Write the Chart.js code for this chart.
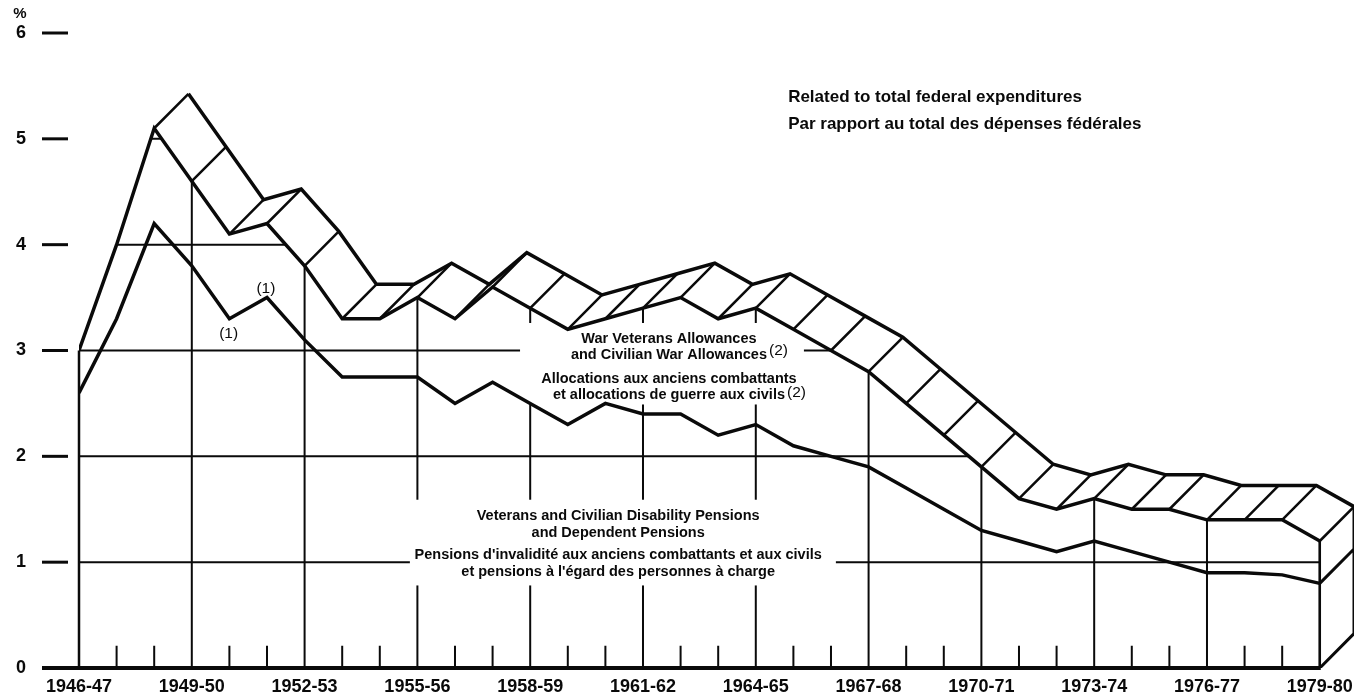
<!DOCTYPE html>
<html>
<head>
<meta charset="utf-8">
<title>Veterans allowances and pensions, % of federal expenditures</title>
<script src="https://cdn.jsdelivr.net/npm/chart.js@4.4.1/dist/chart.umd.min.js"></script>
<style>
  html, body { margin: 0; padding: 0; background: #fff; }
  canvas { display: block; }
</style>
</head>
<body>
<canvas id="chart" width="1368" height="698"></canvas>
<script>
const years = ['1946-47', '1947-48', '1948-49', '1949-50', '1950-51', '1951-52', '1952-53', '1953-54',
  '1954-55', '1955-56', '1956-57', '1957-58', '1958-59', '1959-60', '1960-61', '1961-62', '1962-63',
  '1963-64', '1964-65', '1965-66', '1966-67', '1967-68', '1968-69', '1969-70', '1970-71', '1971-72',
  '1972-73', '1973-74', '1974-75', '1975-76', '1976-77', '1977-78', '1978-79', '1979-80'];

// pensions + allowances (top of the wall)
const totalPct = [3.0, 4.0, 5.1, 4.6, 4.1, 4.2, 3.8, 3.3, 3.3, 3.5, 3.3, 3.6, 3.4, 3.2, 3.3, 3.4, 3.5,
  3.3, 3.4, 3.2, 3.0, 2.8, 2.5, 2.2, 1.9, 1.6, 1.5, 1.6, 1.5, 1.5, 1.4, 1.4, 1.4, 1.2];

// disability and dependent pensions
const pensionsPct = [2.6, 3.3, 4.2, 3.8, 3.3, 3.5, 3.1, 2.75, 2.75, 2.75, 2.5, 2.7, 2.5, 2.3, 2.5, 2.4, 2.4,
  2.2, 2.3, 2.1, 2.0, 1.9, 1.7, 1.5, 1.3, 1.2, 1.1, 1.2, 1.1, 1.0, 0.9, 0.9, 0.88, 0.8];

const yTicks = [0, 1, 2, 3, 4, 5, 6];

const INK = '#0a0a0a';
const FONT = '"Liberation Sans", Arial, Helvetica, sans-serif';

// depth of the ribbon, in axis units
const DEPTH_X = 0.91;
const DEPTH_Y = 0.325;
const last = totalPct.length - 1;

// top face of segment i -> i+1 is seen only when it does not climb too steeply
function faceVisible(i) {
  if (i < 0 || i >= last) return false;
  return (totalPct[i + 1] - totalPct[i]) * DEPTH_X < DEPTH_Y;
}

const backEdge = [];
const depthLines = [];
totalPct.forEach((v, i) => {
  if (!faceVisible(i - 1) && !faceVisible(i)) return;
  if (!faceVisible(i - 1) && backEdge.length) backEdge.push({ x: i - 0.5 + DEPTH_X, y: null });
  backEdge.push({ x: i + DEPTH_X, y: v + DEPTH_Y });
  depthLines.push({ x: i, y: v }, { x: i + DEPTH_X, y: v + DEPTH_Y }, { x: i + DEPTH_X, y: null });
});

const endCap = [
  { x: last, y: 0 }, { x: last + DEPTH_X, y: DEPTH_Y }, { x: last + DEPTH_X, y: totalPct[last] + DEPTH_Y },
  { x: last + DEPTH_X, y: null },
  { x: last, y: pensionsPct[last] }, { x: last + DEPTH_X, y: pensionsPct[last] + DEPTH_Y }
];

// white boxes behind the inside labels, in axis units
const labelBoxes = [
  { x0: 11.73, x1: 19.28, y0: 3.26, y1: 2.49 },
  { x0: 8.80, x1: 20.13, y0: 1.59, y1: 0.78 }
];

function line(ctx, x0, y0, x1, y1) {
  ctx.beginPath();
  ctx.moveTo(x0, y0);
  ctx.lineTo(x1, y1);
  ctx.stroke();
}

function text(ctx, str, x, y, size, weight, align) {
  ctx.font = (weight || 'bold') + ' ' + size + 'px ' + FONT;
  ctx.textAlign = align || 'left';
  ctx.textBaseline = 'alphabetic';
  ctx.fillStyle = INK;
  ctx.fillText(str, x, y);
  return ctx.measureText(str).width;
}

// grid lines drawn on the front wall only
const wallGrid = {
  id: 'wallGrid',
  afterDatasetDraw(chart, args) {
    if (chart.data.datasets[args.index].label !== 'wall') return;
    const { ctx, scales: { x, y } } = chart;
    const base = y.getPixelForValue(0);
    ctx.save();
    ctx.beginPath();
    ctx.moveTo(x.getPixelForValue(0), base);
    totalPct.forEach((v, i) => ctx.lineTo(x.getPixelForValue(i), y.getPixelForValue(v)));
    ctx.lineTo(x.getPixelForValue(last), base);
    ctx.closePath();
    ctx.clip();

    ctx.strokeStyle = INK;
    ctx.lineWidth = 2;
    yTicks.slice(1).forEach(v => {
      const py = y.getPixelForValue(v);
      line(ctx, x.getPixelForValue(0), py, x.getPixelForValue(last), py);
    });
    totalPct.forEach((v, i) => {
      const px = x.getPixelForValue(i);
      const top = i % 3 === 0 ? y.getPixelForValue(v) : y.getPixelForValue(0.21);
      line(ctx, px, base, px, top);
    });

    ctx.fillStyle = '#fff';
    labelBoxes.forEach(b => {
      const x0 = x.getPixelForValue(b.x0), x1 = x.getPixelForValue(b.x1);
      const y0 = y.getPixelForValue(b.y0), y1 = y.getPixelForValue(b.y1);
      ctx.fillRect(x0, y0, x1 - x0, y1 - y0);
    });
    ctx.restore();

    // the two end edges of the wall are not clipped
    ctx.save();
    ctx.strokeStyle = INK;
    ctx.lineWidth = 2.5;
    [0, last].forEach(i => {
      const px = x.getPixelForValue(i);
      line(ctx, px, base, px, y.getPixelForValue(totalPct[i]));
    });
    ctx.restore();
  }
};

const decorations = {
  id: 'decorations',
  afterDraw(chart) {
    const { ctx, chartArea, scales: { x, y } } = chart;
    ctx.save();
    ctx.strokeStyle = INK;
    ctx.lineCap = 'butt';

    // y dashes and base line
    ctx.lineWidth = 3;
    yTicks.slice(1).forEach(v => {
      const py = y.getPixelForValue(v);
      line(ctx, chartArea.left - 37, py, chartArea.left - 11, py);
    });
    ctx.lineWidth = 4;
    line(ctx, chartArea.left - 37, y.getPixelForValue(0), x.getPixelForValue(last) + 1, y.getPixelForValue(0));

    text(ctx, '%', chartArea.left - 59, y.getPixelForValue(6) - 15, 15, 'bold', 'center');

    // heading
    const tx = x.getPixelForValue(18.86);
    text(ctx, 'Related to total federal expenditures', tx, y.getPixelForValue(5.35), 17);
    text(ctx, 'Par rapport au total des dépenses fédérales', tx, y.getPixelForValue(5.09), 17);

    // allowances label
    let cx = x.getPixelForValue(15.69);
    text(ctx, 'War Veterans Allowances', cx, y.getPixelForValue(3.07), 14.5, 'bold', 'center');
    let w = text(ctx, 'and Civilian War Allowances', cx, y.getPixelForValue(2.92), 14.5, 'bold', 'center');
    text(ctx, '(2)', cx + w / 2 + 2, y.getPixelForValue(2.92) - 4, 15.5, 'normal');
    text(ctx, 'Allocations aux anciens combattants', cx, y.getPixelForValue(2.69), 14.5, 'bold', 'center');
    w = text(ctx, 'et allocations de guerre aux civils', cx, y.getPixelForValue(2.54), 14.5, 'bold', 'center');
    text(ctx, '(2)', cx + w / 2 + 2, y.getPixelForValue(2.54) - 2, 15.5, 'normal');

    // pensions label
    cx = x.getPixelForValue(14.34);
    text(ctx, 'Veterans and Civilian Disability Pensions', cx, y.getPixelForValue(1.40), 14.5, 'bold', 'center');
    text(ctx, 'and Dependent Pensions', cx, y.getPixelForValue(1.24), 14.5, 'bold', 'center');
    text(ctx, "Pensions d'invalidité aux anciens combattants et aux civils", cx, y.getPixelForValue(1.03), 14.5, 'bold', 'center');
    text(ctx, "et pensions à l'égard des personnes à charge", cx, y.getPixelForValue(0.87), 14.5, 'bold', 'center');

    // footnote marks
    text(ctx, '(1)', x.getPixelForValue(3.98), y.getPixelForValue(3.12), 15.5, 'normal', 'center');
    text(ctx, '(1)', x.getPixelForValue(4.97), y.getPixelForValue(3.54), 15.5, 'normal', 'center');
    ctx.restore();
  }
};

const lineStyle = { pointRadius: 0, tension: 0, borderColor: INK, fill: false, spanGaps: false };

new Chart(document.getElementById('chart'), {
  type: 'line',
  data: {
    datasets: [
      { ...lineStyle, label: 'back', data: backEdge, borderWidth: 3.5, order: 5 },
      { ...lineStyle, label: 'depth', data: depthLines, borderWidth: 2.5, order: 4 },
      {
        ...lineStyle, label: 'wall', data: totalPct.map((v, i) => ({ x: i, y: v })),
        borderWidth: 1, borderColor: 'rgba(0,0,0,0)', fill: 'origin', backgroundColor: '#fff', order: 3
      },
      { ...lineStyle, label: 'total', data: totalPct.map((v, i) => ({ x: i, y: v })), borderWidth: 3.5, order: 2 },
      { ...lineStyle, label: 'pensions', data: pensionsPct.map((v, i) => ({ x: i, y: v })), borderWidth: 3.5, order: 1 },
      { ...lineStyle, label: 'end', data: endCap, borderWidth: 3, order: 0 }
    ]
  },
  options: {
    responsive: false,
    animation: false,
    layout: { padding: { top: 33, right: 14, bottom: 0, left: 0 } },
    plugins: { legend: { display: false }, tooltip: { enabled: false } },
    scales: {
      x: {
        type: 'linear',
        min: 0,
        max: last + DEPTH_X,
        grid: { drawOnChartArea: false, drawTicks: true, tickLength: 8, color: 'rgba(0,0,0,0)' },
        border: { display: false },
        afterBuildTicks: s => { s.ticks = years.map((_, i) => ({ value: i })).filter(t => t.value % 3 === 0); },
        afterFit: s => { s.height = 30; },
        ticks: {
          autoSkip: false,
          maxRotation: 0,
          padding: 0,
          color: INK,
          font: { family: FONT, size: 18, weight: 'bold' },
          callback: v => years[v]
        }
      },
      y: {
        min: 0,
        max: 6,
        grid: { drawOnChartArea: false, drawTicks: true, tickLength: 53, color: 'rgba(0,0,0,0)' },
        border: { display: false },
        afterBuildTicks: s => { s.ticks = yTicks.map(v => ({ value: v })); },
        afterFit: s => { s.width = 79; },
        ticks: {
          padding: 0,
          color: INK,
          font: { family: FONT, size: 18, weight: 'bold' }
        }
      }
    }
  },
  plugins: [wallGrid, decorations]
});
</script>
</body>
</html>
